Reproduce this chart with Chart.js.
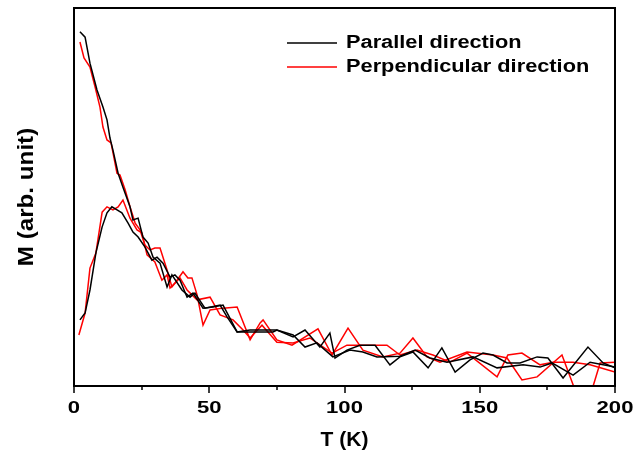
<!DOCTYPE html>
<html><head><meta charset="utf-8">
<script src="https://cdn.jsdelivr.net/npm/chart.js@4/dist/chart.umd.min.js"></script>
<style>html,body{margin:0;padding:0;background:#fff}#wrap{width:635px;height:456px}</style>
</head><body><div id="wrap"><canvas id="c" width="635" height="456"></canvas></div>
<script>
// ---- data (T in K, M in arbitrary units) ----
const parFC_T = [2.2,4.1,5.9,8.5,10.7,12.2,13.3,14.4,16.3,18.1,20.7,21.8,23.7,25.5,27.4,29.2,31.8,34.4,36.2,39.9,42.9,44.7,48.4,54.0,56.6,60.3,67.7,73.6,75.0,81.0,85.4,90.9,94.6,96.5,100.9,105.7,111.3,116.8,120.5,125.3,130.9,136.0,140.9,146.4,151.2,154.9,160.1,164.9,171.2,175.2,180.8,190.0,195.6,200];
const parFC_M = [93.7,92.3,85.4,78.3,73.8,70.4,65.6,62.4,56.3,52.6,47.4,43.9,44.4,39.4,37.8,34.1,32.5,26.2,29.4,25.4,23.5,24.6,20.6,21.4,18.3,14.3,14.3,14.3,14.8,13.0,14.8,10.3,14.0,7.4,9.5,10.8,10.8,5.6,7.7,9.0,4.8,10.1,3.7,6.9,8.7,8.2,6.1,6.1,7.7,7.4,2.1,10.3,6.1,4.8];

const parZFC_T = [2.2,4.1,5.9,8.1,10.4,12.2,14.0,15.9,17.7,20.0,21.8,23.7,26.2,28.8,30.7,32.9,35.5,37.3,39.2,41.8,44.0,47.7,51.4,55.1,60.3,65.1,75.0,81.0,85.4,89.8,95.7,102.0,106.8,112.0,120.5,126.1,131.6,137.9,147.5,156.4,166.0,172.3,176.7,184.5,190.8,200];
const parZFC_M = [17.5,19.3,25.4,35.2,42.1,45.8,47.4,46.6,45.8,43.1,40.7,39.4,36.8,33.3,34.1,32.5,28.8,29.4,28.0,23.5,24.6,20.6,20.9,21.4,14.3,14.8,14.8,13.5,10.3,11.4,7.7,9.5,9.0,7.7,7.9,9.5,7.4,6.3,7.7,4.8,5.6,5.0,6.1,2.9,6.3,5.0];

const perFC_T = [2.2,3.7,5.9,7.8,9.6,10.7,12.2,13.7,15.9,17.0,18.9,20.7,22.6,24.4,26.2,28.1,29.9,31.8,34.4,36.2,37.3,40.3,42.1,43.6,45.5,47.7,50.3,55.1,60.3,65.1,68.8,69.9,75.0,80.6,90.2,95.4,101.3,106.8,114.2,120.5,125.3,130.5,135.3,145.3,154.9,160.1,165.6,171.2,180.4,185.2,191.5,194.5,200];
const perFC_M = [91.0,86.8,84.4,79.1,73.8,68.5,65.1,64.3,56.3,55.8,51.9,47.4,43.1,41.3,37.3,36.0,36.5,36.5,30.7,26.2,27.2,30.2,28.6,28.6,24.1,16.1,20.1,20.6,20.9,12.2,16.7,17.5,12.2,10.8,15.1,8.2,15.3,9.5,7.7,8.7,12.7,7.7,6.3,9.0,8.2,7.4,1.6,2.4,8.2,-1.0,-1.0,6.1,6.3];

const perZFC_T = [1.8,4.1,5.9,8.1,10.4,12.2,14.4,16.3,18.1,20.7,23.3,25.1,27.0,29.9,32.5,34.4,35.5,39.2,41.8,45.5,50.3,54.0,58.8,62.5,65.1,69.5,75.0,81.0,87.2,95.4,100.9,108.3,115.7,120.5,126.8,132.7,139.0,145.3,156.4,160.4,165.6,172.3,177.1,184.5,190.8,200];
const perZFC_M = [13.5,19.3,31.2,35.2,46.0,47.4,46.6,47.4,49.2,44.4,41.3,40.5,34.7,32.8,28.0,29.4,25.9,28.6,25.4,22.8,23.5,18.8,17.5,14.8,12.7,16.1,11.6,11.4,12.7,8.7,10.8,10.8,10.8,8.2,9.5,8.2,6.3,8.7,2.4,8.2,8.7,5.6,6.3,6.3,5.6,3.7];

const xMajorTicks = [0, 50, 100, 150, 200];
const xMinorTicks = [25, 75, 125, 175];
const legendLabels = ['Parallel direction', 'Perpendicular direction'];
const seriesColors = ['#000000', '#ff0000'];
const xTitle = 'T (K)';
const yTitle = 'M (arb. unit)';

function pts(T, M) { return T.map((t, i) => ({x: t, y: M[i]})); }

function sText(ctx, text, x, y, size, sx, sy, align, rot) {
  ctx.save();
  ctx.translate(x, y);
  if (rot) ctx.rotate(rot);
  ctx.scale(sx, sy);
  ctx.font = 'bold ' + size + 'px "Liberation Sans", Arial, sans-serif';
  ctx.fillStyle = '#000';
  ctx.textAlign = align;
  ctx.textBaseline = 'middle';
  ctx.fillText(text, 0, 0);
  ctx.restore();
}

const decor = {
  id: 'decor',
  afterDatasetsDraw(chart) {
    const ctx = chart.ctx;
    const a = chart.chartArea;
    const xs = chart.scales.x;
    ctx.save();
    ctx.strokeStyle = '#000';
    ctx.lineWidth = 2;
    ctx.strokeRect(a.left, a.top, a.right - a.left, a.bottom - a.top);
    ctx.lineWidth = 1.5;
    ctx.beginPath();
    xMajorTicks.forEach(v => { const p = Math.round(xs.getPixelForValue(v)); ctx.moveTo(p, a.bottom); ctx.lineTo(p, a.bottom + 7); });
    xMinorTicks.forEach(v => { const p = Math.round(xs.getPixelForValue(v)); ctx.moveTo(p, a.bottom); ctx.lineTo(p, a.bottom + 4); });
    ctx.stroke();
    xMajorTicks.forEach(v => sText(ctx, String(v), xs.getPixelForValue(v), a.bottom + 22, 17, 1.3, 1, 'center', 0));
    sText(ctx, xTitle, (a.left + a.right) / 2, a.bottom + 54, 20, 1.05, 1, 'center', 0);
    sText(ctx, yTitle, 27, (a.top + a.bottom) / 2, 22, 1.1, 1, 'center', -Math.PI / 2);
    // legend
    legendLabels.forEach((lab, i) => {
      const y = 43 + i * 24;
      ctx.strokeStyle = seriesColors[i];
      ctx.lineWidth = 1.5;
      ctx.beginPath(); ctx.moveTo(287, y); ctx.lineTo(337, y); ctx.stroke();
      sText(ctx, lab, 346, y, 18, 1.21, 1, 'left', 0);
    });
    ctx.restore();
  }
};

const ds = (label, T, M, color) => ({
  label, data: pts(T, M), borderColor: color, backgroundColor: color,
  borderWidth: 1.5, pointRadius: 0, tension: 0, fill: false
});

new Chart(document.getElementById('c'), {
  type: 'line',
  data: {
    datasets: [
      ds(legendLabels[0], parFC_T, parFC_M, seriesColors[0]),
      ds(legendLabels[0], parZFC_T, parZFC_M, seriesColors[0]),
      ds(legendLabels[1], perFC_T, perFC_M, seriesColors[1]),
      ds(legendLabels[1], perZFC_T, perZFC_M, seriesColors[1])
    ]
  },
  options: {
    responsive: false,
    animation: false,
    devicePixelRatio: 1,
    layout: { padding: { top: 8, right: 20, left: 0, bottom: 0 } },
    plugins: { legend: { display: false }, tooltip: { enabled: false } },
    scales: {
      x: { type: 'linear', min: 0, max: 200, grid: { display: false }, border: { display: false },
           ticks: { display: false }, afterFit: s => { s.height = 70; } },
      y: { type: 'linear', min: 0, max: 100, grid: { display: false }, border: { display: false },
           ticks: { display: false }, afterFit: s => { s.width = 74; } }
    }
  },
  plugins: [decor]
});
</script>
</body></html>
